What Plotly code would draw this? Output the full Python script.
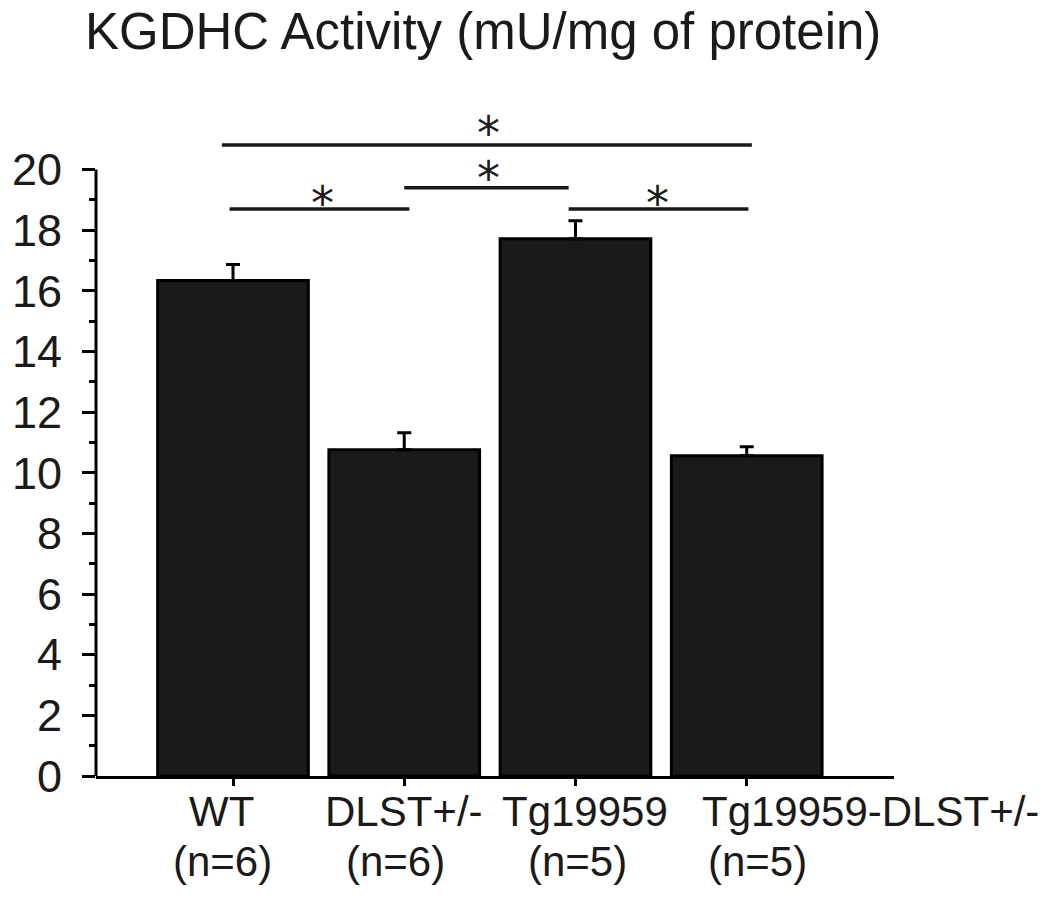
import plotly.graph_objects as go

# KGDHC activity per genotype (mean + SEM)
groups = ["WT", "DLST+/-", "Tg19959", "Tg19959-DLST+/-"]
group_n = ["(n=6)", "(n=6)", "(n=5)", "(n=5)"]
activity = [16.34, 10.76, 17.72, 10.56]
activity_sem = [0.53, 0.56, 0.59, 0.30]
no_minus = [0, 0, 0, 0]

y_ticks = [0, 2, 4, 6, 8, 10, 12, 14, 16, 18, 20]
y_minor = [1, 3, 5, 7, 9, 11, 13, 15, 17, 19]

# significance brackets (in category units) and their star marks
sig_from = [-0.02, 1.0, 1.96, -0.065]
sig_to = [1.03, 1.96, 3.01, 3.03]
sig_level = [18.70, 19.40, 18.70, 20.81]
sig_star_x = [0.52, 1.49, 2.48, 1.49]
sig_star_y = [19.21, 20.02, 19.21, 21.5]

# the category labels in the original are hand placed, not centred on ticks
name_x = [-0.07, 1.0, 2.053, 3.72]
n_x = [-0.064, 0.95, 2.01, 3.06]

INK = "#1a1a1a"
FONT = "Liberation Sans, Arial, sans-serif"

fig = go.Figure(go.Bar(
    x=groups, y=activity,
    marker=dict(color=INK, line=dict(color="black", width=3)),
    error_y=dict(type="data", symmetric=False, array=activity_sem,
                 arrayminus=no_minus, color="black", thickness=3, width=7),
))

# y axis line only up to 20, brackets sit above it
fig.add_shape(type="line", xref="paper", yref="y", x0=0, x1=0, y0=0, y1=20,
              line=dict(color="black", width=3))

for x0, x1, lvl in zip(sig_from, sig_to, sig_level):
    fig.add_shape(type="line", xref="x", yref="y", x0=x0, x1=x1, y0=lvl, y1=lvl,
                  line=dict(color=INK, width=3.5))

for sx, sy in zip(sig_star_x, sig_star_y):
    fig.add_annotation(x=sx, y=sy, xref="x", yref="y", text="*", showarrow=False,
                       yanchor="middle", yshift=-9,
                       font=dict(family="DejaVu Sans", size=46, color=INK))

for nx, name in zip(name_x, groups):
    fig.add_annotation(x=nx, y=-0.0542, xref="x", yref="paper", text=name, showarrow=False,
                       yanchor="middle", font=dict(family=FONT, size=42, color=INK))

for nx, n in zip(n_x, group_n):
    fig.add_annotation(x=nx, y=-0.1295, xref="x", yref="paper", text=n, showarrow=False,
                       yanchor="middle", font=dict(family=FONT, size=42, color=INK))

# page body has an 8px margin, so the figure is a bit smaller than the window
fig.update_layout(
    width=1042, height=890,
    margin=dict(l=88, r=156, t=104, b=122),
    paper_bgcolor="white", plot_bgcolor="white",
    showlegend=False, bargap=0.12,
    title=dict(text="KGDHC Activity (mU/mg of protein)", xref="container", yref="container",
               x=0.0739, xanchor="left", y=0.9736, yanchor="middle",
               font=dict(family=FONT, size=51, color=INK)),
    xaxis=dict(type="category", range=[-0.80, 3.86], showline=True, linecolor="black",
               linewidth=3, ticks="outside", ticklen=7, tickwidth=3, tickcolor="black",
               showgrid=False, zeroline=False, showticklabels=False, automargin=False),
    yaxis=dict(range=[0, 21.9], showline=False, tickmode="array", tickvals=y_ticks,
               ticks="outside", ticklen=13, tickwidth=3, tickcolor="black",
               minor=dict(tickmode="array", tickvals=y_minor, ticks="outside",
                          ticklen=6, tickwidth=3, tickcolor="black", showgrid=False),
               showgrid=False, zeroline=False, ticklabelstandoff=11, automargin=False,
               tickfont=dict(family=FONT, size=45, color=INK)),
)

fig.write_html("out.html")
